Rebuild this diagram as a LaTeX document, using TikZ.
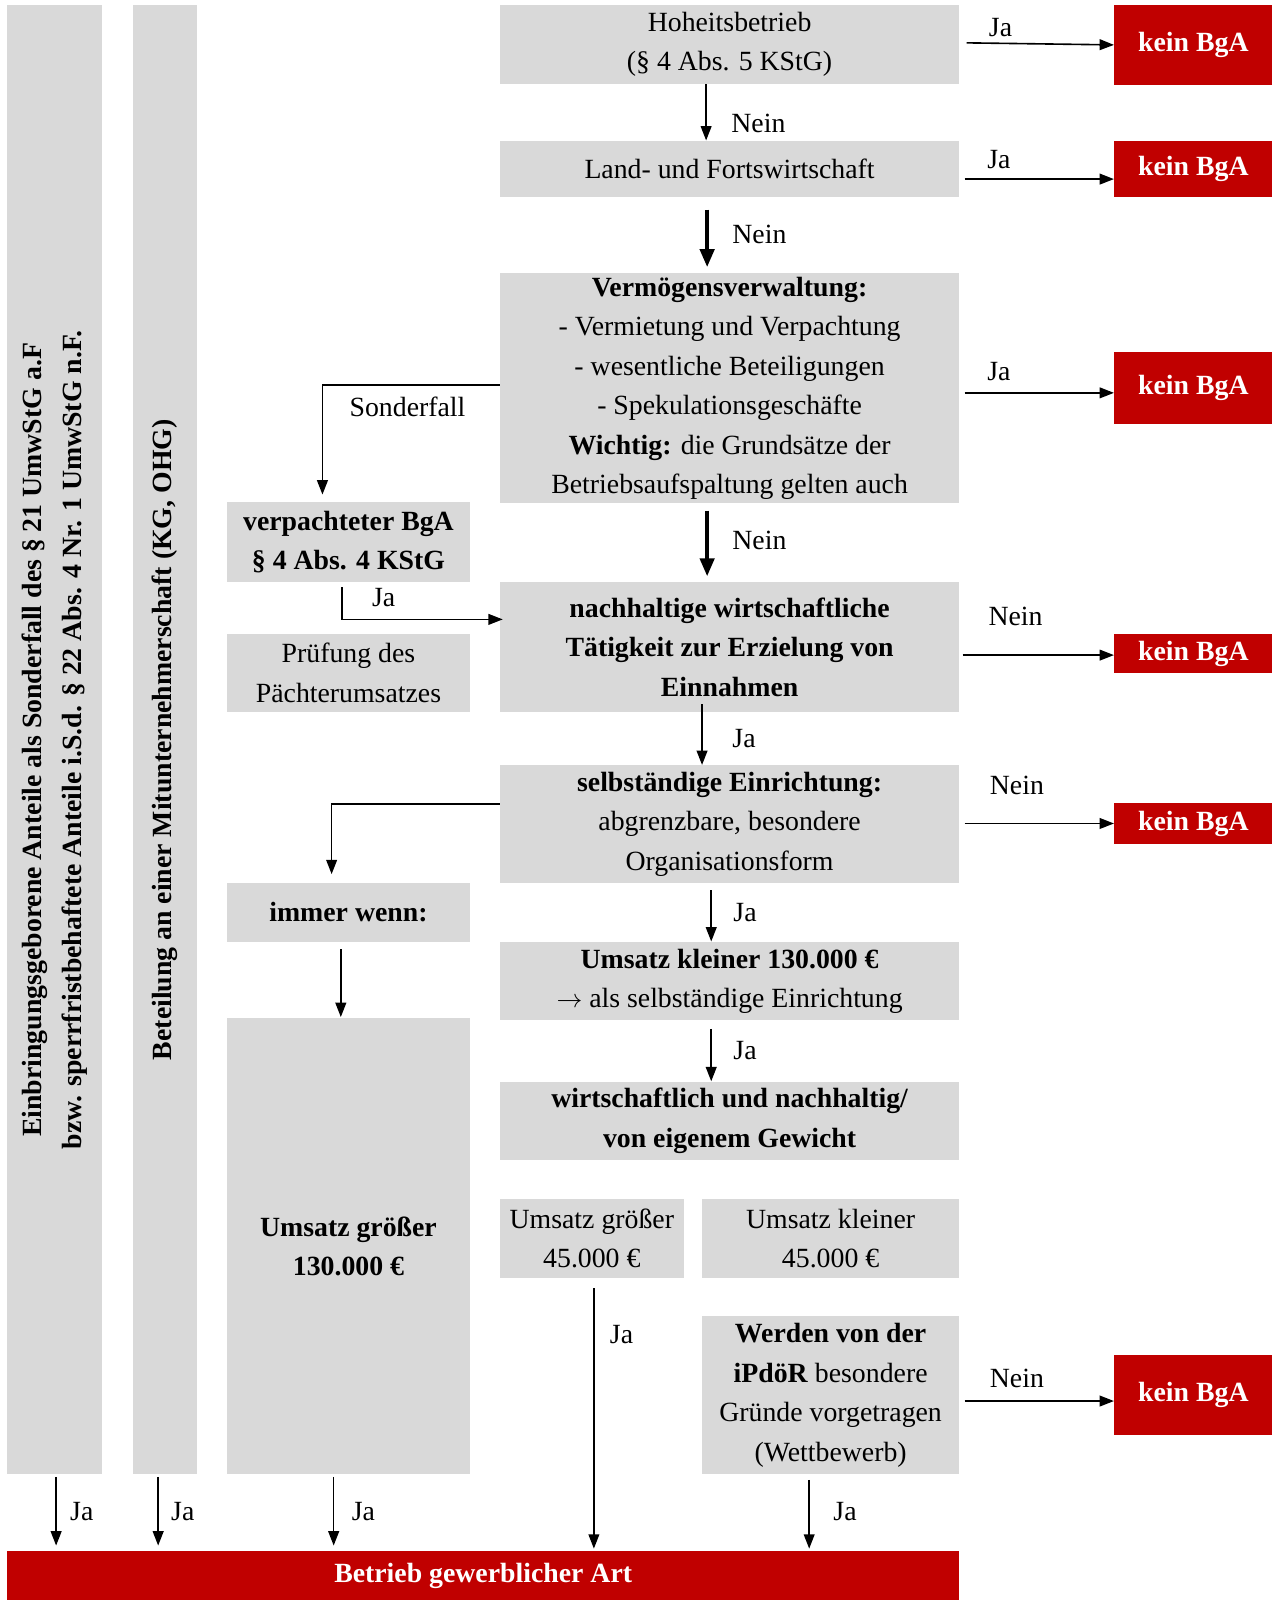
\documentclass[tikz,border=0pt]{standalone}
\usepackage{fontspec}
\setmainfont{Liberation Serif}
\usetikzlibrary{arrows.meta,positioning,calc}
\definecolor{BoxGrey}{HTML}{D9D9D9}
\definecolor{BgaRed}{HTML}{C00000}
\newcommand{\fsz}{\fontsize{15.5}{22}\selectfont}
\tikzset{
  greybox/.style={fill=BoxGrey,inner sep=0pt,align=center,font=\fsz},
  redbox/.style={fill=BgaRed,text=white,inner sep=0pt,align=center,font=\fsz\bfseries},
  arr/.style={-{Triangle[length=8pt,width=6pt]},line width=0.9pt},
  thickarr/.style={-{Triangle[length=10pt,width=8pt]},line width=2pt},
  lbl/.style={inner sep=0pt,font=\fsz},
}

\begin{document}
\begin{tikzpicture}[x=0.02cm,y=-0.02cm]
  \useasboundingbox (0,0) rectangle (1251,1568);

  % left columns
  \node[greybox,rotate=90,minimum width=28.8cm,minimum height=1.86cm,font=\fsz\bfseries] (einbr) at (53.5,725)
    {Einbringungsgeborene Anteile als Sonderfall des § 21 UmwStG a.F\\bzw. sperrfristbehaftete Anteile i.S.d. § 22 Abs. 4 Nr. 1 UmwStG n.F.};
  \node[greybox,rotate=90,minimum width=28.8cm,minimum height=1.26cm,font=\fsz\bfseries] (mitu) at (161.5,725)
    {Beteilung an einer Mitunternehmerschaft (KG, OHG)};

  % main column
  \node[greybox,minimum width=9cm,minimum height=1.54cm] (hoheit) at (715,43.5) {Hoheitsbetrieb\\(§ 4 Abs. 5 KStG)};
  \node[greybox,minimum width=9cm,minimum height=1.1cm] (land) at (715,165.5) {Land- und Fortswirtschaft};
  \node[greybox,minimum width=9cm,minimum height=4.5cm] (verm) at (715,380.5)
    {\textbf{Vermögensverwaltung:}\\- Vermietung und Verpachtung\\- wesentliche Beteiligungen\\- Spekulationsgeschäfte\\\textbf{Wichtig:} die Grundsätze der\\Betriebsaufspaltung gelten auch};
  \node[greybox,minimum width=9cm,minimum height=2.56cm,font=\fsz\bfseries] (nachh) at (715,634)
    {nachhaltige wirtschaftliche\\Tätigkeit zur Erzielung von\\Einnahmen};
  \node[greybox,minimum width=9cm,minimum height=2.3cm] (selbst) at (715,807.5)
    {\textbf{selbständige Einrichtung:}\\abgrenzbare, besondere\\Organisationsform};
  \node[greybox,minimum width=9cm,minimum height=1.54cm] (klein130) at (715,961.5)
    {\textbf{Umsatz kleiner 130.000 €}\\$\rightarrow$ als selbständige Einrichtung};
  \node[greybox,minimum width=9cm,minimum height=1.54cm,font=\fsz\bfseries] (wirt) at (715,1098.5)
    {wirtschaftlich und nachhaltig/\\von eigenem Gewicht};
  \node[greybox,minimum width=3.6cm,minimum height=1.54cm] (gross45) at (580,1213.5) {Umsatz größer\\45.000 €};
  \node[greybox,minimum width=5.04cm,minimum height=1.54cm] (klein45) at (814,1213.5) {Umsatz kleiner\\45.000 €};
  \node[greybox,minimum width=5.04cm,minimum height=3.1cm] (werden) at (814,1367.5)
    {\textbf{Werden von der}\\\textbf{iPdöR} besondere\\Gründe vorgetragen\\(Wettbewerb)};

  % side column
  \node[greybox,minimum width=4.78cm,minimum height=1.56cm,font=\fsz\bfseries] (verp) at (341.5,531) {verpachteter BgA\\§ 4 Abs. 4 KStG};
  \node[greybox,minimum width=4.78cm,minimum height=1.54cm] (pruef) at (341.5,659.5) {Prüfung des\\Pächterumsatzes};
  \node[greybox,minimum width=4.78cm,minimum height=1.16cm,font=\fsz\bfseries] (immer) at (341.5,894) {immer wenn:};
  \node[greybox,minimum width=4.78cm,minimum height=8.94cm,font=\fsz\bfseries] (gross130) at (341.5,1221.5) {Umsatz größer\\130.000 €};

  % results
  \node[redbox,minimum width=3.1cm,minimum height=1.56cm] (kein1) at (1169.5,44) {kein BgA};
  \node[redbox,minimum width=3.1cm,minimum height=1.1cm] (kein2) at (1169.5,165.5) {kein BgA};
  \node[redbox,minimum width=3.1cm,minimum height=1.42cm] (kein3) at (1169.5,380.5) {kein BgA};
  \node[redbox,minimum width=3.1cm,minimum height=0.78cm] (kein4) at (1169.5,640.5) {kein BgA};
  \node[redbox,minimum width=3.1cm,minimum height=0.8cm] (kein5) at (1169.5,807) {kein BgA};
  \node[redbox,minimum width=3.1cm,minimum height=1.56cm] (kein6) at (1169.5,1367) {kein BgA};
  \node[redbox,minimum width=18.66cm,minimum height=0.96cm] (bgart) at (473.5,1544) {Betrieb gewerblicher Art};

  % Nein / Ja down the main column
  \draw[arr] ($(hoheit.south)+(-23,0)$) -- ($(land.north)+(-23,0)$) node[lbl,pos=0.7,right=0.48cm] {Nein};
  \draw[thickarr] ($(land.south)+(-22,12)$) -- ($(verm.north)+(-22,-6)$) node[lbl,pos=0.44,right=0.46cm] {Nein};
  \draw[thickarr] ($(verm.south)+(-22,7)$) -- ($(nachh.north)+(-22,-5)$) node[lbl,pos=0.46,right=0.46cm] {Nein};
  \draw[arr] ($(nachh.south)+(-27,-8)$) -- ($(selbst.north)+(-27,0)$) node[lbl,pos=0.57,right=0.58cm] {Ja};
  \draw[arr] ($(selbst.south)+(-18,7)$) -- ($(klein130.north)+(-18,0)$) node[lbl,pos=0.43,right=0.42cm] {Ja};
  \draw[arr] ($(klein130.south)+(-18,8)$) -- ($(wirt.north)+(-18,0)$) node[lbl,pos=0.41,right=0.42cm] {Ja};

  % to kein BgA
  \draw[arr] ($(hoheit.east)+(7,-1.5)$) -- (kein1.west) node[lbl,pos=0.23,above=0.12cm] {Ja};
  \draw[arr] ($(land.east)+(5,10)$) -- ($(kein2.west)+(0,10)$) node[lbl,pos=0.23,above=0.18cm] {Ja};
  \draw[arr] ($(verm.east)+(5,4.5)$) -- ($(kein3.west)+(0,4.5)$) node[lbl,pos=0.23,above=0.22cm] {Ja};
  \draw[arr] ($(nachh.east |- kein4.west)+(3,1.5)$) -- ($(kein4.west)+(0,1.5)$) node[lbl,pos=0.35,above=0.56cm] {Nein};
  \draw[arr] ($(selbst.east |- kein5.west)+(5,0)$) -- (kein5.west) node[lbl,pos=0.35,above=0.54cm] {Nein};
  \draw[arr] ($(werden.east |- kein6.west)+(5,6)$) -- ($(kein6.west)+(0,6)$) node[lbl,pos=0.35,above=0.24cm] {Nein};

  % side branches
  \draw[arr] ($(verm.west)+(0,-3.5)$) -| ($(verp.north)+(-25.5,-7)$) node[lbl,pos=0.26,below=0.22cm] {Sonderfall};
  \draw[arr] ($(verp.south)+(-6.5,5)$) |- ($(nachh.west)+(3,-27)$) node[lbl,pos=0.63,above=0.24cm] {Ja};
  \draw[arr] ($(selbst.west)+(0,-19.5)$) -| ($(immer.north)+(-16.5,-8)$);
  \draw[arr] ($(immer.south)+(-7.5,7)$) -- ($(gross130.north)+(-7.5,-1)$);

  % into Betrieb gewerblicher Art
  \draw[arr] ($(einbr.west)+(1.5,2)$) -- ($(einbr.west |- bgart.north)+(1.5,-5)$) node[lbl,pos=0.5,right=0.26cm] {Ja};
  \draw[arr] ($(mitu.west)+(-6.5,2)$) -- ($(mitu.west |- bgart.north)+(-6.5,-5)$) node[lbl,pos=0.5,right=0.24cm] {Ja};
  \draw[arr] ($(gross130.south)+(-14.5,2)$) -- ($(gross130.south |- bgart.north)+(-14.5,-5)$) node[lbl,pos=0.5,right=0.34cm] {Ja};
  \draw[arr] ($(gross45.south)+(2,10)$) -- ($(gross45.south |- bgart.north)+(2,-2)$) node[lbl,pos=0.18,right=0.3cm] {Ja};
  \draw[arr] ($(werden.south)+(-21,5)$) -- ($(werden.south |- bgart.north)+(-21,-2)$) node[lbl,pos=0.46,right=0.46cm] {Ja};
\end{tikzpicture}
\end{document}
